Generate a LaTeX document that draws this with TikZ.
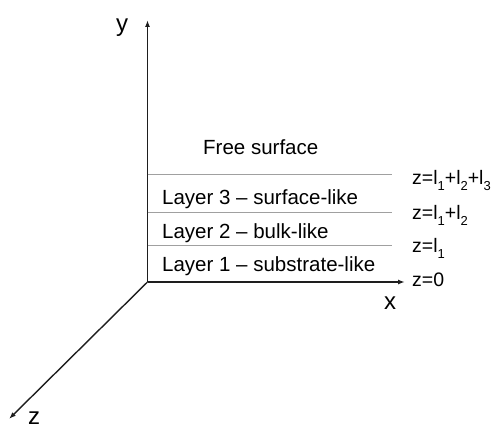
\documentclass[tikz,border=0pt]{standalone}
\usepackage{fontspec}
\setmainfont{Liberation Sans}
\usetikzlibrary{arrows.meta}

\newcommand{\lsub}[1]{\raisebox{-0.32em}{\fontsize{13}{13}\selectfont #1}}

\tikzset{
    axisline/.style={draw={rgb,255:red,30;green,30;blue,30}, line width=1.4pt, -{Latex[length=7pt,width=5pt]}},
    layerline/.style={draw={rgb,255:red,160;green,160;blue,160}, line width=0.9pt},
    layertext/.style={anchor=base west, inner sep=0pt, font=\fontsize{20.5}{22}\selectfont},
    heighttext/.style={anchor=base west, inner sep=0pt, font=\fontsize{19.5}{21}\selectfont},
    axistext/.style={anchor=base, inner sep=0pt, font=\fontsize{24}{26}\selectfont}
}

\begin{document}
\begin{tikzpicture}[x=1pt, y=-1pt]
    \useasboundingbox (0,0) rectangle (497,428);

    % axes
    \coordinate (ndOrigin) at (147.5,282);
    \coordinate (ndXEnd) at (405,282);
    \coordinate (ndYEnd) at (147.5,20);
    \coordinate (ndZEnd) at (9,419);
    \draw[axisline] (ndOrigin) -- (ndXEnd);
    \draw[axisline] (ndOrigin) -- (ndYEnd);
    \draw[axisline] (ndOrigin) -- (ndZEnd);

    % interfaces between the layers
    \coordinate (ndLine3a) at (147.5,174);
    \coordinate (ndLine3b) at (392,174);
    \coordinate (ndLine2a) at (147.5,212);
    \coordinate (ndLine2b) at (392,212);
    \coordinate (ndLine1a) at (147.5,245);
    \coordinate (ndLine1b) at (392,245);
    \draw[layerline] (ndLine3a) -- (ndLine3b);
    \draw[layerline] (ndLine2a) -- (ndLine2b);
    \draw[layerline] (ndLine1a) -- (ndLine1b);

    \node[layertext] (ndFree) at (203,154) {Free surface};
    \node[layertext] (ndLayer3) at (162,204) {Layer 3 -- surface-like};
    \node[layertext] (ndLayer2) at (162,238) {Layer 2 -- bulk-like};
    \node[layertext] (ndLayer1) at (162,271) {Layer 1 -- substrate-like};

    \node[heighttext] (ndH3) at (412,184) {z=l\lsub{1}+l\lsub{2}+l\lsub{3}};
    \node[heighttext] (ndH2) at (412,219) {z=l\lsub{1}+l\lsub{2}};
    \node[heighttext] (ndH1) at (412,252) {z=l\lsub{1}};
    \node[heighttext] (ndH0) at (412,286) {z=0};

    \node[axistext] (ndX) at (390,309) {x};
    \node[axistext] (ndY) at (122,31) {y};
    \node[axistext] (ndZ) at (34,424.5) {z};
\end{tikzpicture}
\end{document}
